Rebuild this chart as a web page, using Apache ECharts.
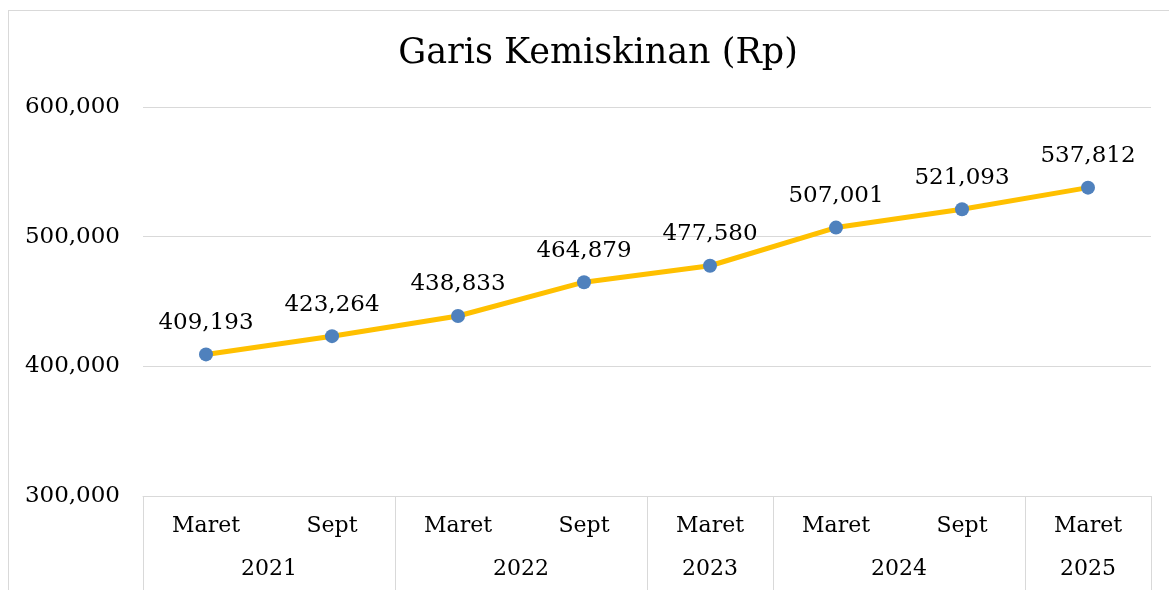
<!DOCTYPE html>
<html>
<head>
<meta charset="utf-8">
<script src="https://cdn.jsdelivr.net/npm/echarts@6/dist/echarts.min.js"></script>
<style>
  html, body { margin: 0; padding: 0; background: #fff; }
  #frame { position: absolute; left: 8px; top: 10px; width: 1200px; height: 640px; border: 1px solid #d9d9d9; }
  #chart { position: absolute; left: 0; top: 0; width: 1169px; height: 590px; }
</style>
</head>
<body>
<div id="frame"></div>
<div id="chart"></div>
<script>
const months = ['Maret', 'Sept', 'Maret', 'Sept', 'Maret', 'Maret', 'Sept', 'Maret']
const years = ['2021', '2021', '2022', '2022', '2023', '2024', '2024', '2025']
const garisKemiskinan = [409193, 423264, 438833, 464879, 477580, 507001, 521093, 537812]
const yTicks = { min: 300000, max: 600000, interval: 100000 }

// year axis on half-slot positions so the year label sits in the middle of its group
const yearSlots = new Array(months.length * 2 + 1).fill('')
const yearEdges = new Set()
let start = 0
for (let i = 1; i <= years.length; i++) {
  if (i === years.length || years[i] !== years[start]) {
    yearSlots[start + i] = years[start]
    yearEdges.add(start * 2)
    yearEdges.add(i * 2)
    start = i
  }
}

const font = '"DejaVu Serif", "Liberation Serif", serif'
const grey = '#d9d9d9'

const chart = echarts.init(document.getElementById('chart'))
chart.setOption({
  animation: false,
  title: {
    text: 'Garis Kemiskinan (Rp)',
    left: 593,
    textAlign: 'center',
    top: 31,
    textStyle: { fontFamily: font, fontSize: 35, fontWeight: 'normal', color: '#000' },
  },
  grid: { left: 143, right: 18, top: 107, bottom: 94 },
  xAxis: [
    {
      type: 'category',
      data: months,
      position: 'bottom',
      axisLine: { show: true, lineStyle: { color: grey, width: 1 } },
      axisTick: { show: false },
      axisLabel: { margin: 19, fontFamily: font, fontSize: 22, color: '#000' },
    },
    {
      type: 'category',
      data: yearSlots,
      boundaryGap: false,
      position: 'bottom',
      axisLine: { show: false },
      axisTick: {
        show: true,
        inside: false,
        length: 100,
        interval: (index) => yearEdges.has(index),
        lineStyle: { color: grey, width: 1 },
      },
      axisLabel: {
        margin: 62,
        interval: (index, value) => value !== '',
        fontFamily: font,
        fontSize: 22,
        color: '#000',
      },
    },
  ],
  yAxis: {
    type: 'value',
    min: yTicks.min,
    max: yTicks.max,
    interval: yTicks.interval,
    axisLine: { show: false },
    axisTick: { show: false },
    splitLine: { lineStyle: { color: grey, width: 1 } },
    axisLabel: {
      margin: 23,
      fontFamily: font,
      fontSize: 23,
      color: '#000',
      formatter: (v) => v.toLocaleString('en-US'),
    },
  },
  series: [
    {
      name: 'Garis Kemiskinan',
      type: 'line',
      xAxisIndex: 0,
      data: garisKemiskinan,
      symbol: 'circle',
      symbolSize: 14,
      lineStyle: { color: '#ffc000', width: 5 },
      itemStyle: { color: '#4f81bd' },
      label: {
        show: true,
        position: 'top',
        distance: 13,
        fontFamily: font,
        fontSize: 23,
        color: '#000',
        formatter: (p) => p.value.toLocaleString('en-US'),
      },
    },
  ],
})
</script>
</body>
</html>
